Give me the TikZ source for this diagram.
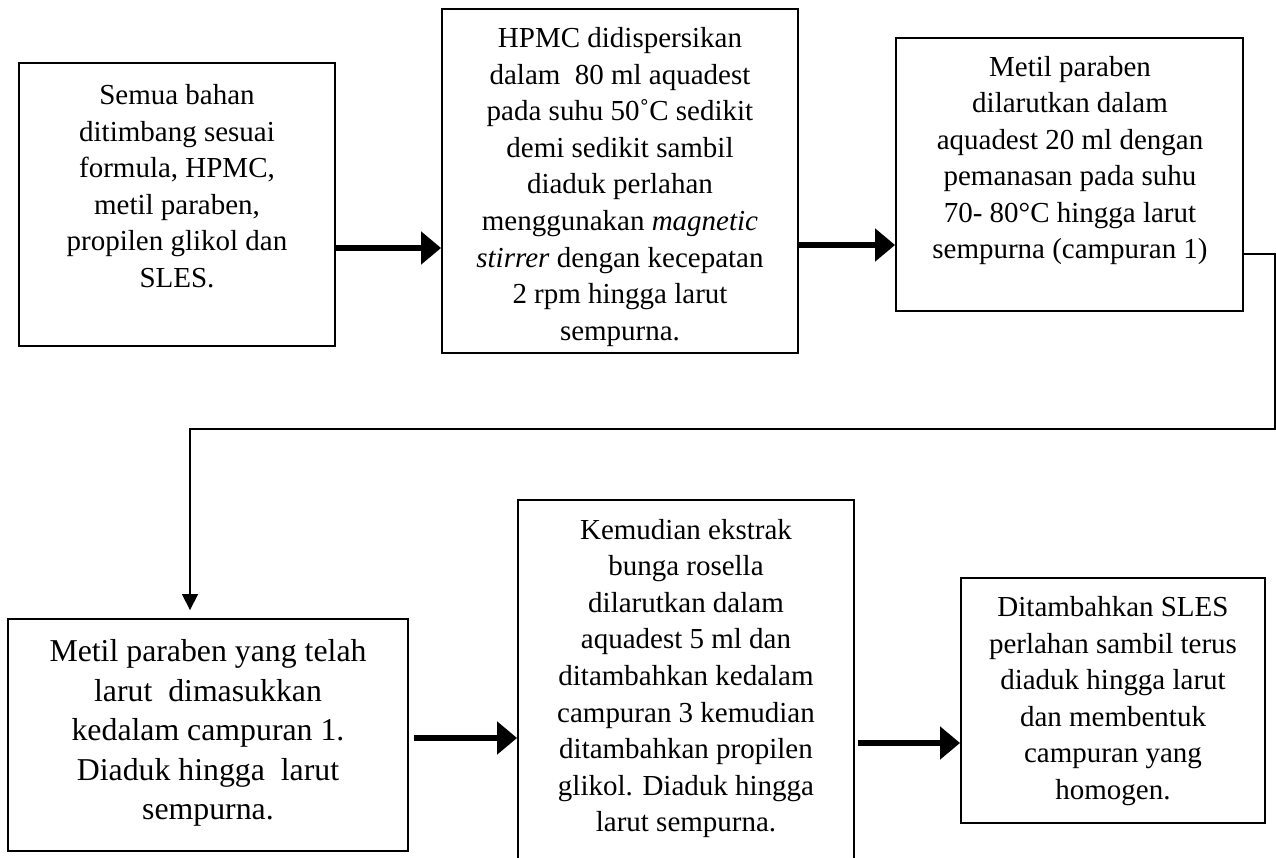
\documentclass[tikz,border=0pt]{standalone}
\usepackage{fontspec}
\setmainfont{Liberation Serif}
\usetikzlibrary{arrows.meta, positioning}

\begin{document}
\begin{tikzpicture}[
        x=0.02cm, y=-0.02cm,
        stepbox/.style={draw, line width=1.1pt, inner sep=0pt},
        steptext/.style={align=center, font=\fontsize{16.5}{20.8}\selectfont},
        bigtext/.style={align=center, font=\fontsize{18.1}{22.5}\selectfont},
        bigflow/.style={line width=3.4pt, -{Triangle[length=0.4cm,width=0.64cm]}},
        backflow/.style={line width=0.9pt, -{Triangle[length=0.32cm,width=0.32cm]}, shorten >=0.16cm},
        ]
        \clip (0,0) rectangle (1276,858);

        \node[stepbox, minimum width=6.32cm, minimum height=5.66cm] (box1) at (177,204.5) {};
        \node[stepbox, minimum width=7.12cm, minimum height=6.88cm] (box2) at (620,181) {};
        \node[stepbox, minimum width=6.94cm, minimum height=5.46cm] (box3) at (1069.5,174.5) {};
        \node[stepbox, minimum width=8.00cm, minimum height=4.64cm] (box4) at (208,735) {};
        \node[stepbox, minimum width=6.72cm, minimum height=7.40cm] (box5) at (686,685) {};
        \node[stepbox, minimum width=6.08cm, minimum height=4.90cm] (box6) at (1113,700.5) {};

        \node[steptext] (text1) at (177,186) {Semua bahan\\ ditimbang sesuai\\ formula, HPMC,\\ metil paraben,\\ propilen glikol dan\\ SLES.};
        \node[steptext] (text2) at (620,187) {HPMC didispersikan\\ dalam\ \ 80 ml aquadest\\ pada suhu 50˚C sedikit\\ demi sedikit sambil\\ diaduk perlahan\\ menggunakan \textit{magnetic}\\ \textit{stirrer} dengan kecepatan\\ 2 rpm hingga larut\\ sempurna.};
        \node[steptext] (text3) at (1070,160.5) {Metil paraben\\ dilarutkan dalam\\ aquadest 20 ml dengan\\ pemanasan pada suhu\\ 70- 80°C hingga larut\\ sempurna (campuran 1)};
        \node[bigtext] (text4) at (208,733) {Metil paraben yang telah\\ larut\ \ dimasukkan\\ kedalam campuran 1.\\ Diaduk hingga\ \ larut\\ sempurna.};
        \node[steptext] (text5) at (686,678.5) {Kemudian ekstrak\\ bunga rosella\\ dilarutkan dalam\\ aquadest 5 ml dan\\ ditambahkan kedalam\\ campuran 3 kemudian\\ ditambahkan propilen\\ glikol. Diaduk hingga\\ larut sempurna.};
        \node[steptext] (text6) at (1113,701) {Ditambahkan SLES\\ perlahan sambil terus\\ diaduk hingga larut\\ dan membentuk\\ campuran yang\\ homogen.};

        \draw[bigflow] (box1.east |- 0,248) -- (box2.west |- 0,248);
        \draw[bigflow] (box2.east |- 0,245) -- (box3.west |- 0,245);
        \draw[bigflow, shorten <=0.1cm] (box4.east |- 0,738) -- (box5.west |- 0,738);
        \draw[bigflow, shorten <=0.06cm] (box5.east |- 0,743) -- (box6.west |- 0,743);

        \coordinate (turnR) at (1275,254);
        \coordinate (turnL) at (190,429);
        \draw[backflow] (box3.east |- turnR) -- (turnR) |- (turnL) -- (turnL |- box4.north);
\end{tikzpicture}
\end{document}
